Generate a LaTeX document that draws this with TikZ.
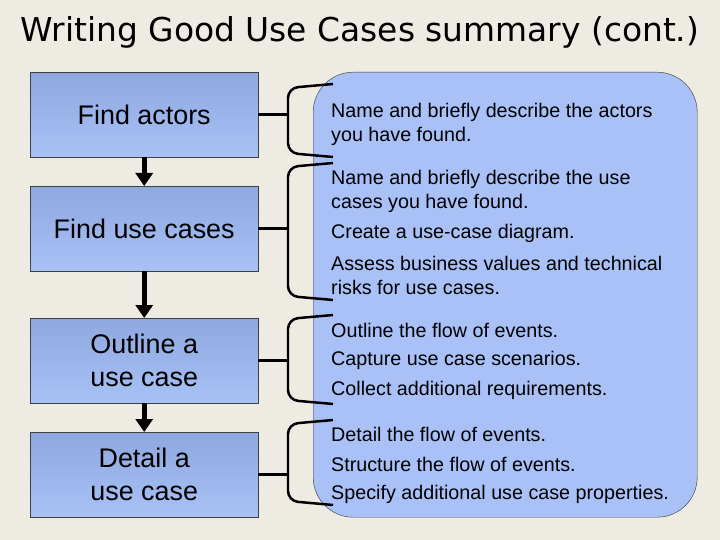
\documentclass[tikz,border=0pt]{standalone}
\usepackage{fontspec}
\setmainfont{Liberation Sans}
\newfontfamily\titlefont{DejaVu Sans}
\usetikzlibrary{positioning,arrows.meta}
\definecolor{paper}{HTML}{EEEBE2}
\definecolor{boxtop}{HTML}{8EA8E0}
\definecolor{boxbot}{HTML}{A8C2F6}
\definecolor{panel}{HTML}{A9C1F7}

\tikzset{
  stage/.style={draw=black!75,top color=boxtop,bottom color=boxbot,minimum width=228bp,minimum height=85bp,font=\fontsize{27}{33}\selectfont,align=center},
  item/.style={anchor=west,align=left,font=\fontsize{19.8}{24}\selectfont,inner sep=0pt},
  flow/.style={line width=5pt,-{Triangle[length=13bp,width=17bp]}},
  brace/.style={line width=2.5pt,rounded corners=10bp}
}

\begin{document}
\begin{tikzpicture}[x=1bp,y=-1bp]
  % background
  \fill[paper] (0,0) rectangle (720,540);
  \useasboundingbox (0,0) rectangle (720,540);
  \node[font=\titlefont\fontsize{33}{38}\selectfont] (title) at (360,32) {Writing Good Use Cases summary (cont.)};
  % the panel
  \node[draw=black!80,fill=panel,rounded corners=40bp,minimum width=384bp,minimum height=445bp,anchor=north west] (pane) at (313,72) {};
  % stages
  \node[stage,anchor=north west] (actors) at (30,72) {Find actors};
  \node[stage,anchor=north west] (cases) at (30,186) {Find use cases};
  \node[stage,anchor=north west] (outline) at (30,318) {Outline a\\use case};
  \node[stage,anchor=north west] (detail) at (30,432) {Detail a\\use case};
  \draw[flow] (actors.south) -- (cases.north);
  \draw[flow] (cases.south) -- (outline.north);
  \draw[flow] (outline.south) -- (detail.north);
  % brackets
  \foreach \s/\ya/\yb in {actors/84/157, cases/163/300, outline/315/404, detail/420/505}{
    \draw[brace] (333,\ya) -- (288,\ya+4) -- (288,\yb-4) -- (333,\yb);
    \draw[line width=2.5pt] (\s.east) -- ([xshift=30bp]\s.east);
  }
  % items
  \node[item] (a1) at (331,124) {Name and briefly describe the actors\\you have found.};
  \node[item] (c1) at (331,191) {Name and briefly describe the use\\cases you have found.};
  \node[item] (c2) at (331,233) {Create a use-case diagram.};
  \node[item] (c3) at (331,275) {Assess business values and technical\\risks for use cases.};
  \node[item] (o1) at (331,330) {Outline the flow of events.};
  \node[item] (o2) at (331,360) {Capture use case scenarios.};
  \node[item] (o3) at (331,390) {Collect additional requirements.};
  \node[item] (d1) at (331,434) {Detail the flow of events.};
  \node[item] (d2) at (331,464) {Structure the flow of events.};
  \node[item] (d3) at (331,494) {Specify additional use case properties.};
\end{tikzpicture}
\end{document}
